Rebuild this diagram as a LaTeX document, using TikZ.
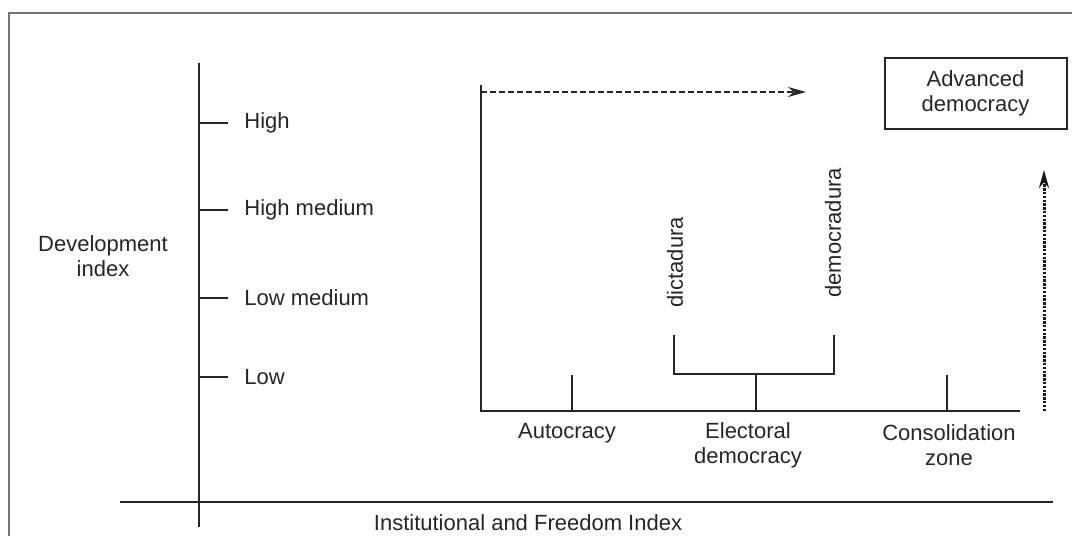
\documentclass[tikz,border=0pt]{standalone}
\usepackage{fontspec}
\setmainfont{Liberation Sans}
\usetikzlibrary{arrows.meta}
\begin{document}
\begin{tikzpicture}[x=0.5pt,y=-0.5pt,
  axis/.style={line width=1pt,black!85},
  frameline/.style={line width=0.8pt,black!55},
  lbl/.style={font=\fontsize{11}{12.5}\selectfont,inner sep=0pt,align=center,text=black!85},
  lvl/.style={lbl,anchor=west},
  rot/.style={lbl,rotate=90,anchor=west},
  box/.style={draw,line width=1pt,black!85,minimum width=91pt,minimum height=35.5pt,font=\fontsize{11}{12.5}\selectfont,align=center,text=black!85}]
\useasboundingbox (0,0) rectangle (1072,536);
% frame
\coordinate (fbl) at (9,536);
\coordinate (ftl) at (9,13);
\coordinate (ftr) at (1072,13);
\draw[frameline] (fbl) -- (ftl) -- (ftr);
% development axis
\coordinate (dtop) at (199,63);
\coordinate (dbot) at (199,527);
\draw[axis] (dtop) -- (dbot);
\foreach \y/\t/\n in {123/High/h, 210/High medium/hm, 298/Low medium/lm, 377/Low/l}{
  \coordinate (t\n) at (199,\y);
  \coordinate (te\n) at (228,\y);
  \draw[axis] (t\n) -- (te\n);
  \node[lvl] (L\n) at (244,\y) {\t};
}
\node[lbl] (dev) at (103,256) {Development\\index};
% institutional axis
\coordinate (il) at (120,502);
\coordinate (ir) at (1053,502);
\draw[axis] (il) -- (ir);
\node[lbl] (inst) at (528,523) {Institutional and Freedom Index};
% inner plot
\coordinate (o) at (481,411);
\coordinate (otop) at (481,85);
\coordinate (oright) at (1020,411);
\draw[axis] (otop) -- (o) -- (oright);
% ticks
\coordinate (a0) at (572,411); \coordinate (a1) at (572,375);
\coordinate (e0) at (756,411); \coordinate (e1) at (756,374);
\coordinate (c0) at (947,411); \coordinate (c1) at (947,375);
\draw[axis] (a0) -- (a1);
\draw[axis] (e0) -- (e1);
\draw[axis] (c0) -- (c1);
% bracket
\coordinate (bl) at (674,374); \coordinate (blt) at (674,335);
\coordinate (br) at (834,374); \coordinate (brt) at (834,335);
\draw[axis] (blt) -- (bl) -- (br) -- (brt);
\node[rot] (dict) at (675,308) {dictadura};
\node[rot] (demo) at (833,298) {democradura};
% category labels
\node[lbl] (auto) at (567,433) {Autocracy};
\node[lbl] (elec) at (748,445) {Electoral\\democracy};
\node[lbl] (cons) at (949,445) {Consolidation\\zone};
% advanced democracy box
\node[box] (adv) at (975.5,93) {Advanced\\democracy};
% arrows
\coordinate (hs) at (481,92);
\coordinate (he) at (806,92);
\draw[line width=0.9pt,black!85,dash pattern=on 3pt off 1.5pt,-{Stealth[length=9pt,width=5pt]}] (hs) -- (he);
\coordinate (vs) at (1044,411);
\coordinate (ve) at (1044,170);
\draw[line width=1.5pt,black!90,dash pattern=on 1.2pt off 0.7pt,-{Stealth[length=9pt,width=5pt]}] (vs) -- (ve);
\end{tikzpicture}
\end{document}
